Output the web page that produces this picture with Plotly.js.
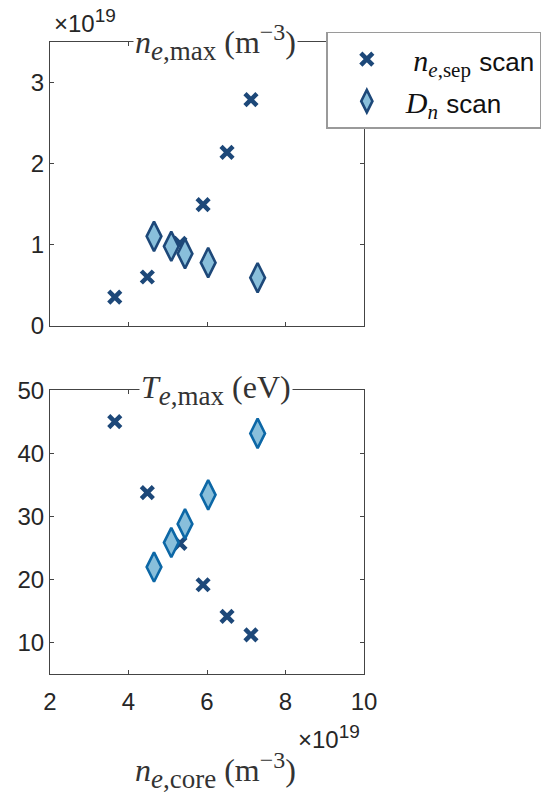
<!DOCTYPE html>
<html>
<head>
<meta charset="utf-8">
<script src="https://cdn.plot.ly/plotly-3.0.1.min.js"></script>
<style>html,body{margin:0;padding:0;background:#fff;}#chart{width:553px;height:799px;}</style>
</head>
<body>
<div id="chart"></div>
<script>
// n_e,core (x 1e19 m^-3)
const sepCore = [3.65, 4.48, 5.31, 5.90, 6.51, 7.12];
const sepNeMax = [0.357, 0.604, 1.02, 1.496, 2.14, 2.79];
const sepTeMax = [45.0, 33.75, 25.7, 19.15, 14.13, 11.2];

const dnCore = [4.65, 5.09, 5.44, 6.03, 7.29];
const dnNeMax = [1.105, 0.982, 0.892, 0.781, 0.596];
const dnTeMax = [21.95, 25.84, 28.8, 33.4, 43.15];

const topYTicks = [0, 1, 2, 3];
const botYTicks = [10, 20, 30, 40, 50];
const xTicks = [2, 4, 6, 8, 10];

const dark = '#1d4879';
const fill = '#89bfdb';
const edgeBottom = '#0c67a6';
const serif = 'Liberation Serif, Times New Roman, serif';
const sans = 'Liberation Sans, Arial, sans-serif';

const xMarker = {symbol: 'x-thin-open', size: 12, color: dark, line: {color: dark, width: 4.5}};

const traces = [
  {x: sepCore, y: sepNeMax, xaxis: 'x', yaxis: 'y', mode: 'markers', type: 'scatter',
   name: "<span style='font-family:Liberation Serif'> <i>n</i><sub><i>e</i>,sep</sub></span> <span style='font-size:26px'>scan</span>",
   marker: xMarker, showlegend: true},
  {x: dnCore, y: dnNeMax, xaxis: 'x', yaxis: 'y', mode: 'markers', type: 'scatter',
   name: "<span style='font-family:Liberation Serif'><i>D<sub>n</sub></i></span> <span style='font-size:26px'>scan</span>",
   marker: {symbol: 'diamond-tall', size: 21, color: fill, line: {color: dark, width: 2.6}}, showlegend: true},
  {x: sepCore, y: sepTeMax, xaxis: 'x2', yaxis: 'y2', mode: 'markers', type: 'scatter',
   marker: xMarker, showlegend: false},
  {x: dnCore, y: dnTeMax, xaxis: 'x2', yaxis: 'y2', mode: 'markers', type: 'scatter',
   marker: {symbol: 'diamond-tall', size: 21, color: fill, line: {color: edgeBottom, width: 2.6}}, showlegend: false}
];

const axisCommon = {
  showline: true, mirror: 'ticks', ticks: 'inside', ticklen: 4, tickwidth: 1,
  linecolor: '#444', tickcolor: '#444', linewidth: 1, showgrid: false, zeroline: false,
  tickfont: {family: sans, size: 24, color: '#262626'}
};

const sub = (s) => "<sub><span style='font-size:27px'>" + s + "</span></sub>";
const sup = (s) => "<sup><span style='font-size:24px'>" + s + "</span></sup>";
const expo = "×10<sup><span style='font-size:19px'>19</span></sup>";

const layout = {
  width: 553, height: 799,
  margin: {l: 50, r: 187, t: 41.5, b: 124.5},
  paper_bgcolor: '#fff', plot_bgcolor: '#fff',
  showlegend: true,
  legend: {x: 0.88, y: 1.0163, xanchor: 'left', yanchor: 'top',
    bgcolor: '#fff', bordercolor: '#9a9a9a', borderwidth: 1.5, itemwidth: 68,
    font: {family: sans, size: 30, color: '#111'}},
  xaxis: Object.assign({}, axisCommon, {range: [2, 10], tickvals: xTicks, showticklabels: false, anchor: 'y'}),
  yaxis: Object.assign({}, axisCommon, {range: [0, 3.5], tickvals: topYTicks, domain: [0.5506, 1], anchor: 'x'}),
  xaxis2: Object.assign({}, axisCommon, {range: [2, 10], tickvals: xTicks, anchor: 'y2', ticklabelstandoff: 6}),
  yaxis2: Object.assign({}, axisCommon, {range: [5, 50], tickvals: botYTicks, domain: [0, 0.4491], anchor: 'x2'}),
  annotations: [
    {xref: 'paper', yref: 'paper', x: 0.528, y: 1, xanchor: 'center', yanchor: 'middle',
     text: '<i>n</i>' + sub('<i>e</i>,max') + ' (m' + sup('−3') + ')', showarrow: false, bgcolor: '#fff',
     font: {family: serif, size: 32, color: '#333'}},
    {xref: 'paper', yref: 'paper', x: 0.528, y: 0.4491, xanchor: 'center', yanchor: 'middle',
     text: '<i>T</i>' + sub('<i>e</i>,max') + ' (eV)', showarrow: false, bgcolor: '#fff',
     font: {family: serif, size: 32, color: '#333'}},
    {xref: 'paper', yref: 'paper', x: 0.528, y: -0.152, xanchor: 'center', yanchor: 'middle',
     text: '<i>n</i>' + sub('<i>e</i>,core') + ' (m' + sup('−3') + ')', showarrow: false,
     font: {family: serif, size: 32, color: '#333'}},
    {xref: 'paper', yref: 'paper', x: 0.005, y: 1.004, xanchor: 'left', yanchor: 'bottom',
     text: expo, showarrow: false,
     font: {family: sans, size: 24, color: '#262626'}},
    {xref: 'paper', yref: 'paper', x: 0.995, y: -0.1, xanchor: 'right', yanchor: 'middle',
     text: expo, showarrow: false,
     font: {family: sans, size: 24, color: '#262626'}}
  ]
};

Plotly.newPlot('chart', traces, layout, {staticPlot: true, displayModeBar: false});
</script>
</body>
</html>
